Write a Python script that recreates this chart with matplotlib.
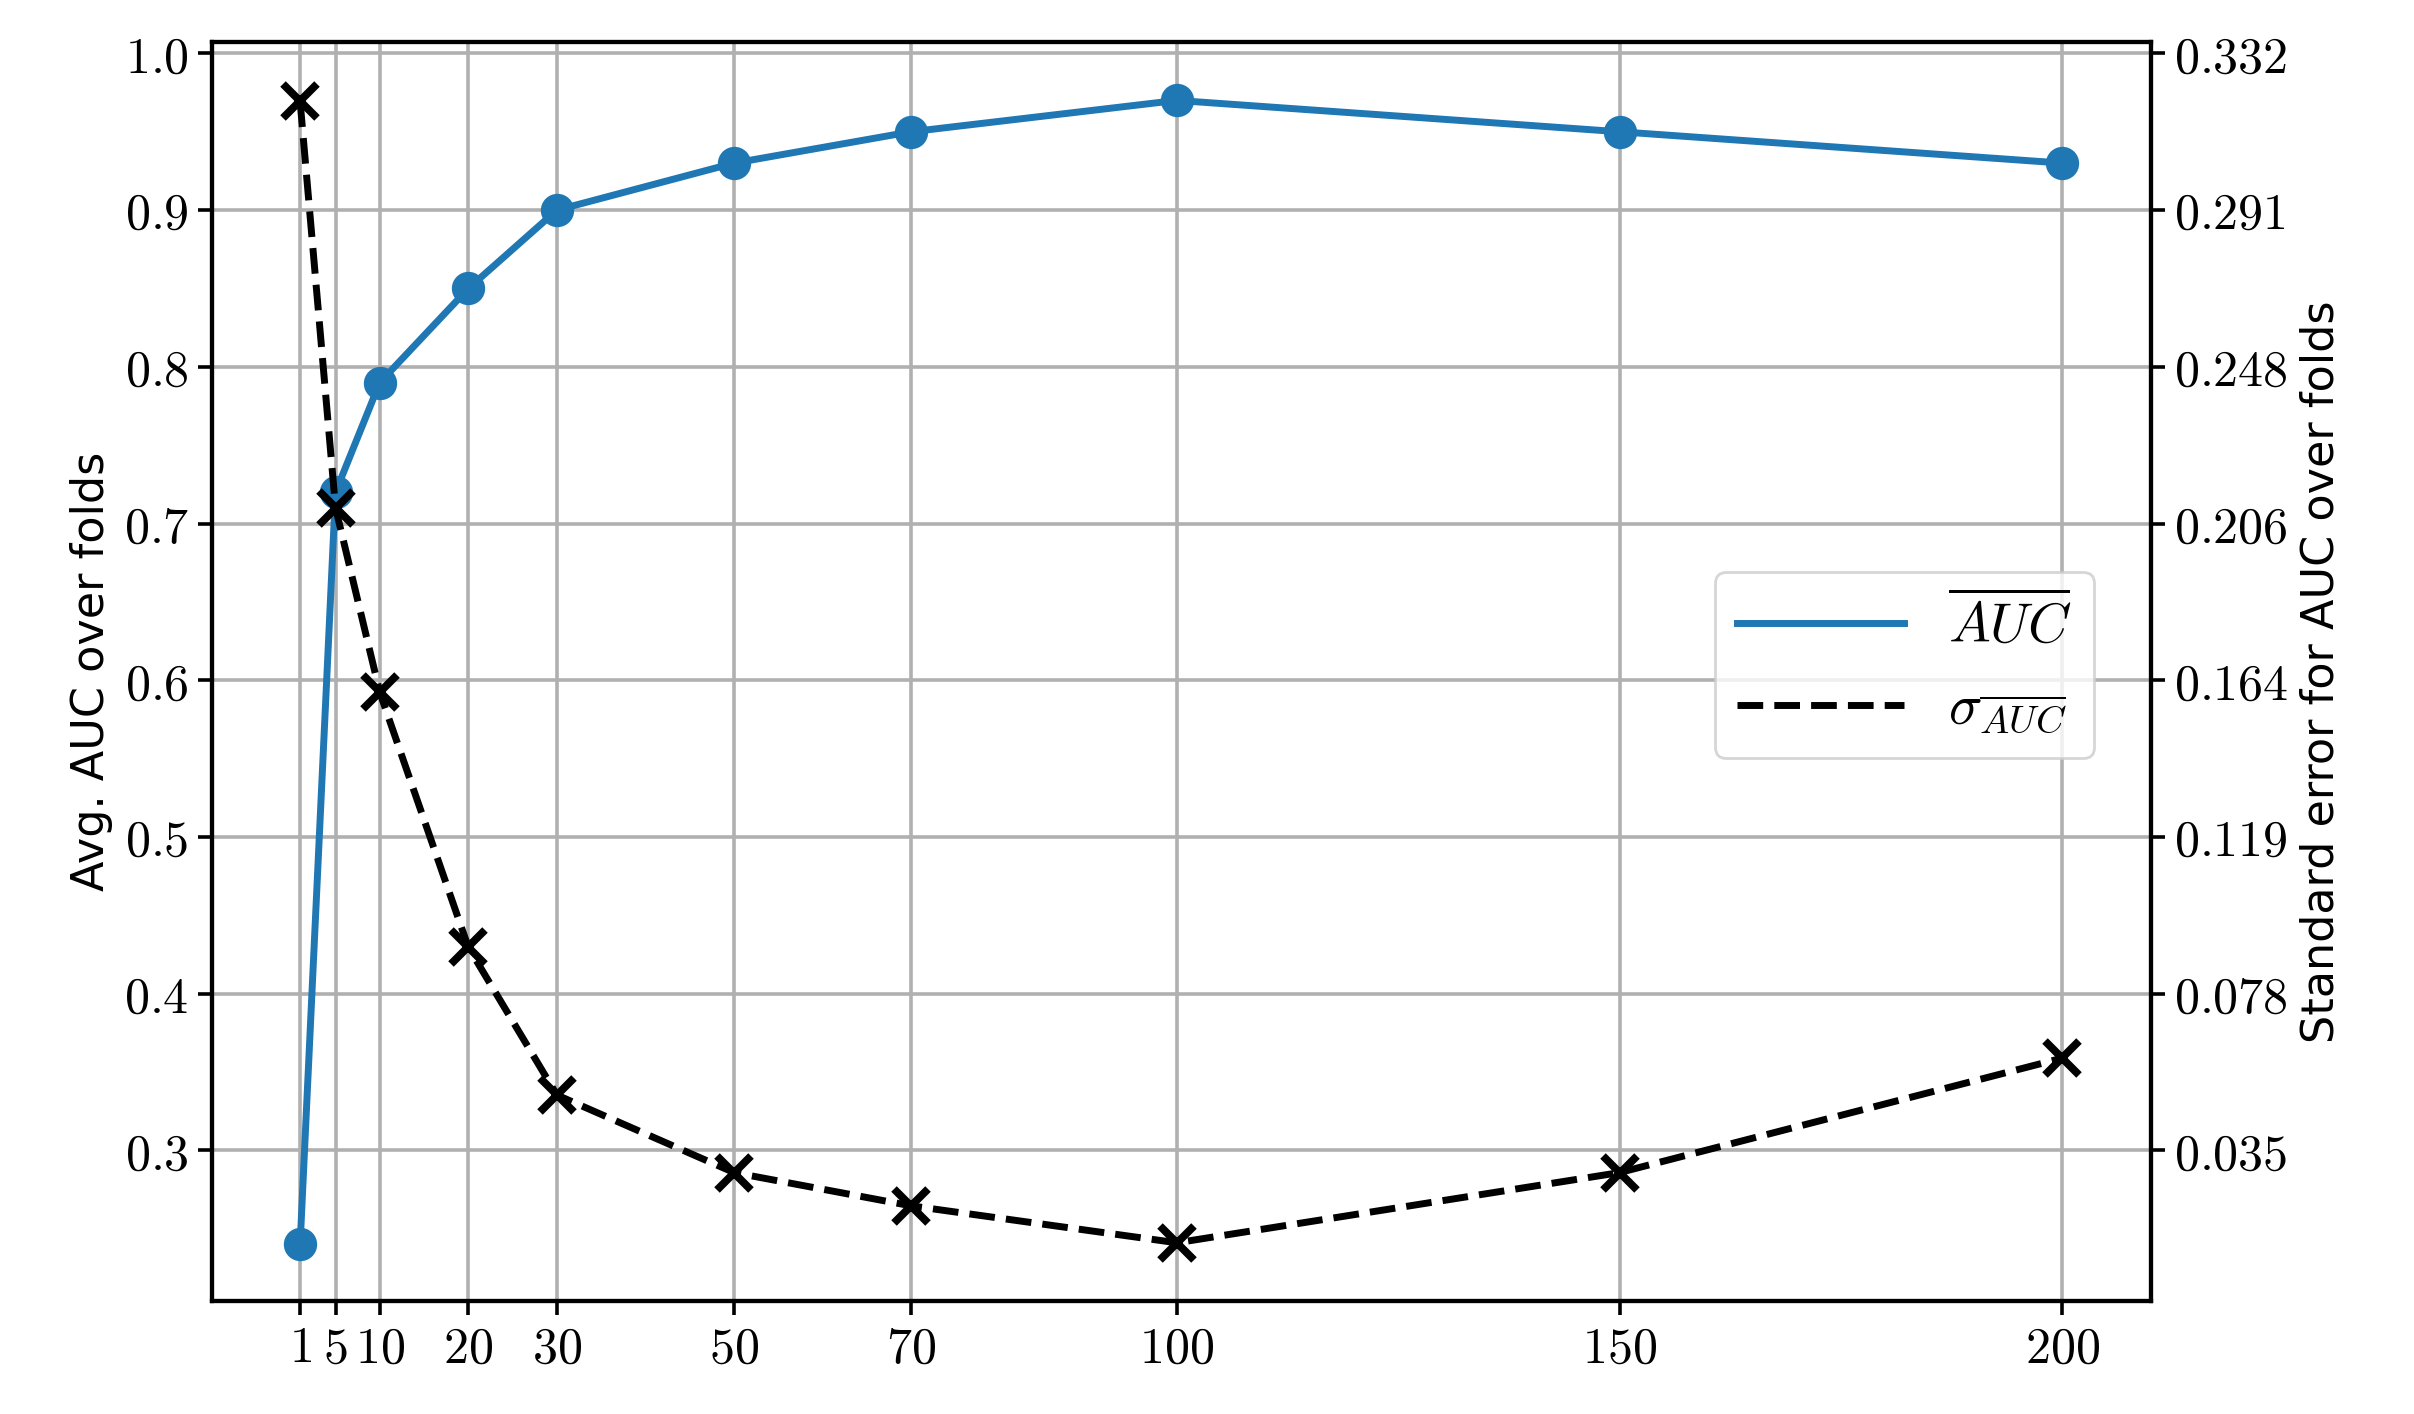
import numpy as np
import matplotlib.pyplot as plt
from matplotlib.ticker import FuncFormatter
from matplotlib.lines import Line2D

plt.rcParams["mathtext.fontset"] = "cm"

n_folds = [1, 5, 10, 20, 30, 50, 70, 100, 150, 200]
auc_mean = [0.24, 0.72, 0.79, 0.85, 0.90, 0.93, 0.95, 0.97, 0.95, 0.93]
auc_se = [0.319, 0.209, 0.159, 0.090, 0.050, 0.029, 0.020, 0.010, 0.029, 0.060]
left_ticks = [0.3, 0.4, 0.5, 0.6, 0.7, 0.8, 0.9, 1.0]
right_labels = ["0.035", "0.078", "0.119", "0.164", "0.206", "0.248", "0.291", "0.332"]

# linear map between left and right axis
def to_right(v):
    return 0.035 + (v - 0.3) * (0.332 - 0.035) / 0.7

fig = plt.figure(figsize=(12.07, 7.07), dpi=200)
ax = fig.add_axes([0.088, 0.08, 0.803, 0.89])
ax2 = ax.twinx()

ax.plot(n_folds, auc_mean, "-o", color="#1f77b4", lw=2.5, ms=11)
ax2.plot(n_folds, auc_se, "--x", color="black", lw=2.5, ms=12, mew=2.8)

ylo, yhi = 0.204, 1.007
ax.set_ylim(ylo, yhi)
ax2.set_ylim(to_right(ylo), to_right(yhi))
ax.set_xlim(-8.9, 210)

ax.set_yticks(left_ticks)
ax.yaxis.set_major_formatter(FuncFormatter(lambda v, p: f"${v:.1f}$"))
ax2.set_yticks([to_right(v) for v in left_ticks])
ax2.set_yticklabels([f"${s}$" for s in right_labels])
ax.set_xticks(n_folds)
ax.set_xticklabels([f"${n}$" for n in n_folds])

for a in (ax, ax2):
    a.tick_params(labelsize=18, width=1.3, length=5)
    for sp in a.spines.values():
        sp.set_linewidth(1.5)
ax.grid(True, color="#b0b0b0", lw=1.3)

ax.set_ylabel("Avg. AUC over folds", fontsize=16)
ax2.set_ylabel("Standard error for AUC over folds", fontsize=16)

handles = [Line2D([], [], color="#1f77b4", lw=2.5),
           Line2D([], [], color="black", lw=2.5, ls="--")]
ax2.legend(handles, [r"$\overline{AUC}$", r"$\sigma_{\overline{AUC}}$"],
           loc="center right", bbox_to_anchor=(0.985, 0.505),
           fontsize=20, handlelength=3, framealpha=0.8)

fig.savefig("out.png", dpi=200)
